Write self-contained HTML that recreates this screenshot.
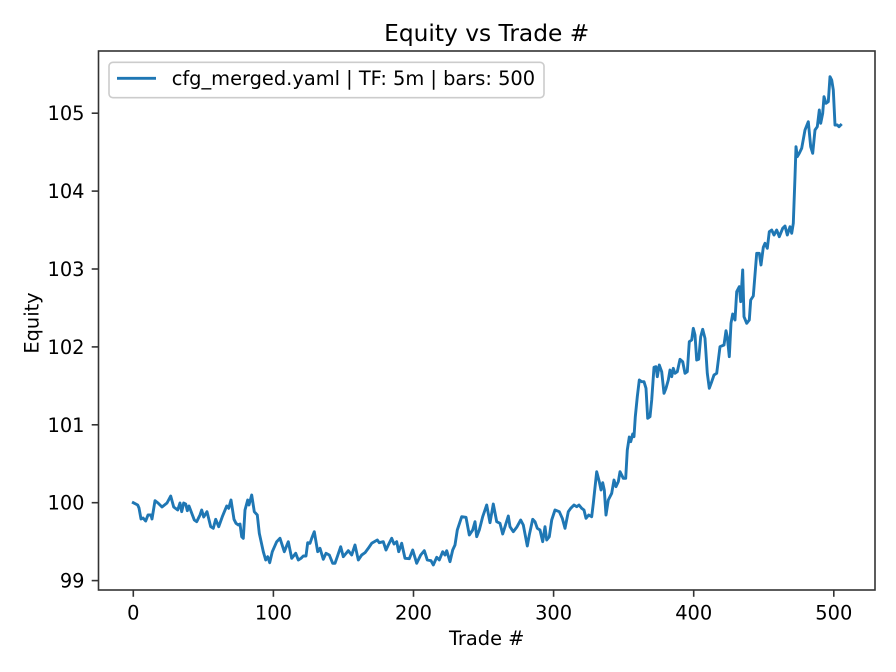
<!DOCTYPE html>
<html>
<head>
<meta charset="utf-8">
<style>
  html, body { margin: 0; padding: 0; background: #ffffff; }
  svg { display: block; }
  text { font-family: "DejaVu Sans", "Liberation Sans", sans-serif; fill: #000; }
</style>
</head>
<body>
<svg width="896" height="672" viewBox="0 0 896 672" xmlns="http://www.w3.org/2000/svg">
  <rect x="0" y="0" width="896" height="672" fill="#ffffff"/>

  <!-- Title -->
  <text x="486.7" y="41" font-size="23.3" text-anchor="middle">Equity vs Trade #</text>

  <!-- Series -->
  <polyline fill="none" stroke="#1f77b4" stroke-width="2.9" stroke-linejoin="round" stroke-linecap="square"
    points="133.3,502.7 137.7,505 139,508 141,519 143,518 145.7,521 148,515 151,515 152,519 155,500.7 158,503 162,507 167,503 170.7,496 173.7,507 177.7,510 180,503 181.7,511.7 183.7,503 185.7,504 187.3,510.7 189,506 194.3,520 196.7,521.7 200,515 201.7,510 203.7,517 207,511.7 210.7,526.7 213.3,528.3 215.7,519.3 218.7,526.7 222.3,516.7 226.7,506 228.7,508.3 231,500 234,519.3 236,523.3 238.3,525 240,524 241.7,536.7 243.3,538.3 245,510 247.7,500 249,505 251.7,495 254.3,511.7 257.3,515 259.3,533.3 263.3,551.7 265.7,560 267.7,556.7 269.7,562.7 272.3,551.7 276.7,541.7 280,538.3 284.3,551.7 288.3,541.7 291.7,558.3 295.7,553.3 298.3,560 301,558.3 303.3,556 306,556 307.7,542.7 310,543.3 311.7,538.3 314.3,531.7 317.7,551.7 320,548.3 323.3,559.3 326,553.3 329.3,555 332.7,563.3 335,563.3 337.3,556.7 340.7,546.7 343.3,556.7 348.3,550.7 351.7,555 355,545 358.3,560 361.7,555 365,552.7 368.3,548.3 371.7,543.3 377.3,540 379.3,542.7 383.3,541.7 386,550 388.3,545 391.7,538.3 394,544 396.7,541.7 398.7,551.7 401.7,543.3 405,558.3 409.3,558.7 412.7,550 416.7,563.3 420.7,555 424.3,550.7 427.3,560 431,560.7 433.3,565 436.7,557.3 439.3,560 442.7,551.7 445,555 446.7,550.7 450,561.7 452.7,550 455,545 457.3,530 461.7,516.7 466,517.3 469.3,535 472.7,530 475,521.7 476.7,536.7 479.3,530 482.7,516.7 486.7,505 490,522.7 493.3,504 496.7,521.7 500,523.3 502.7,534 505,526.7 508.3,516 510,526.7 513.3,531.7 516.7,527.3 520.7,520 523.3,525 527.3,546 529.3,535 532.7,519.3 535,521.7 537.3,528.3 540,530 542.7,541.7 545,526.7 546.7,540 549.3,536.7 551.7,520 555,510 559.3,511.7 562.3,518.3 565,528.3 568.3,511.7 570.7,508.3 574,505 576.7,506.7 579,505 581.7,508.3 584,510 586,518.3 588.7,515 591.7,516.7 593.3,503.3 596.7,471.7 599.3,481.7 601,490 602.7,482.7 604.3,490 606,515 608.3,500 611.7,493.3 614,480 616,486.7 618.3,481.7 620,471.7 623.3,478.3 625.7,478.3 627.3,450 629.3,437 630.7,441.7 632.7,434 634,436.7 635.3,416.7 637.3,396.7 639.3,380 641.7,381.7 644,381.7 646,388.3 647.7,418.3 650,416.7 651.7,400 654,367.3 656,366.7 657.3,376.7 659.3,365 661.7,371.7 664,393.3 666,388.3 668.3,380 670,370 671.7,376.7 673.3,368.3 675,373.3 677.3,371.7 680,359.3 682.7,361.7 685,373.3 687.3,371.7 689.3,341.7 691.7,340 693.3,328.3 695,335 696.7,360 698.7,359.3 700.7,336.7 702.7,329.3 705,338.3 707.3,373.3 709.3,388.3 711.7,381.7 714,375 716.7,373.3 720,346.7 724,345 726,330.7 727.3,336.7 729.3,356.7 731,323.3 732.7,314 735,320 736.7,291.7 739.3,286.7 740.7,301.7 742.7,270 744,316.7 746.7,323.3 749.3,320 750.7,300 753.3,296 756.7,253.3 759.3,253.3 761,265 763.3,247.3 765,243.3 767.3,248.3 769.3,231.7 771.7,230 774,235 776.7,230 779.3,236.7 782.7,228.3 785,226 787.3,235 790,226.7 791.7,233.3 793.3,223.3 795,176.7 796,146.7 797.3,156.7 799.3,153.3 801.7,148.3 805,130 808.3,121.7 810.7,146.7 812.7,153.3 815,130 817.3,126.7 819.3,110 820.7,123.3 822.7,113.3 824,96.7 826,103.3 828.3,101.7 830,76.7 831.7,80 833.3,90 835,125 837.3,125 839,126.7 840.7,125"/>

  <!-- Axes spines -->
  <rect x="98.5" y="51" width="776.5" height="539" fill="none" stroke="#333333" stroke-width="1.6"/>

  <!-- X ticks -->
  <g stroke="#333333" stroke-width="1.6">
    <line x1="133.3" y1="590" x2="133.3" y2="596.8"/>
    <line x1="273.4" y1="590" x2="273.4" y2="596.8"/>
    <line x1="413.5" y1="590" x2="413.5" y2="596.8"/>
    <line x1="553.6" y1="590" x2="553.6" y2="596.8"/>
    <line x1="693.7" y1="590" x2="693.7" y2="596.8"/>
    <line x1="833.8" y1="590" x2="833.8" y2="596.8"/>
  </g>
  <g font-size="19.4" text-anchor="middle">
    <text x="133.3" y="619.3">0</text>
    <text x="273.4" y="619.3">100</text>
    <text x="413.5" y="619.3">200</text>
    <text x="553.6" y="619.3">300</text>
    <text x="693.7" y="619.3">400</text>
    <text x="833.8" y="619.3">500</text>
  </g>

  <!-- Y ticks -->
  <g stroke="#333333" stroke-width="1.6">
    <line x1="91.7" y1="580.6" x2="98.5" y2="580.6"/>
    <line x1="91.7" y1="502.7" x2="98.5" y2="502.7"/>
    <line x1="91.7" y1="424.8" x2="98.5" y2="424.8"/>
    <line x1="91.7" y1="346.9" x2="98.5" y2="346.9"/>
    <line x1="91.7" y1="269" x2="98.5" y2="269"/>
    <line x1="91.7" y1="191.1" x2="98.5" y2="191.1"/>
    <line x1="91.7" y1="113.2" x2="98.5" y2="113.2"/>
  </g>
  <g font-size="19.4" text-anchor="end">
    <text x="84.5" y="587.6">99</text>
    <text x="84.5" y="509.7">100</text>
    <text x="84.5" y="431.8">101</text>
    <text x="84.5" y="353.9">102</text>
    <text x="84.5" y="276">103</text>
    <text x="84.5" y="198.1">104</text>
    <text x="84.5" y="120.2">105</text>
  </g>

  <!-- Axis labels -->
  <text x="486.7" y="645" font-size="19.4" text-anchor="middle">Trade #</text>
  <text transform="translate(38.5,323) rotate(-90)" x="0" y="0" font-size="19.4" text-anchor="middle">Equity</text>

  <!-- Legend -->
  <rect x="109" y="62.3" width="435" height="35.4" rx="3.9" ry="3.9" fill="#ffffff" fill-opacity="0.8" stroke="#cccccc" stroke-width="1.6"/>
  <line x1="117" y1="78.3" x2="156" y2="78.3" stroke="#1f77b4" stroke-width="2.9"/>
  <text x="171.7" y="85" font-size="19.4">cfg_merged.yaml | TF: 5m | bars: 500</text>
</svg>
</body>
</html>
